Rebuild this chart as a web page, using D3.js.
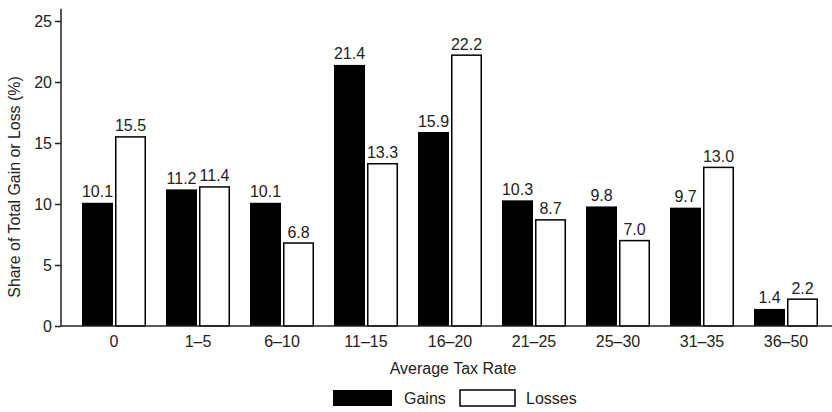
<!DOCTYPE html>
<html><head><meta charset="utf-8">
<script src="https://cdn.jsdelivr.net/npm/d3@7"></script>
<style>body{margin:0;background:#fff}svg{display:block}text{font-family:"Liberation Sans",Arial,sans-serif;fill:#222}</style>
</head><body>
<svg id="c" width="832" height="412"></svg>
<script>
const categories = ["0","1–5","6–10","11–15","16–20","21–25","25–30","31–35","36–50"];
const gains  = [10.1, 11.2, 10.1, 21.4, 15.9, 10.3, 9.8, 9.7, 1.4];
const losses = [15.5, 11.4, 6.8, 13.3, 22.2, 8.7, 7.0, 13.0, 2.2];
const yTicks = [0, 5, 10, 15, 20, 25];
const seriesNames = ["Gains", "Losses"];

const svg = d3.select("#c");
const fs = "16px";
const x = d3.scaleBand().domain(categories).range([72, 828]).padding(0);
const y = d3.scaleLinear().domain([0, 26]).range([326, 8.8]);
const bw = 31;

// bars
const g = svg.append("g");
categories.forEach((c, i) => {
  const cx = x(c) + x.bandwidth() / 2;
  g.append("rect").attr("x", cx - 32).attr("y", y(gains[i])).attr("width", bw)
    .attr("height", y(0) - y(gains[i])).attr("fill", "#000");
  g.append("rect").attr("x", cx + 1.75).attr("y", y(losses[i])).attr("width", bw - 1.5)
    .attr("height", y(0) - y(losses[i])).attr("fill", "#fff").attr("stroke", "#000").attr("stroke-width", 1.5);
  g.append("text").attr("x", cx - 16.5).attr("y", y(gains[i]) - 5.5).attr("text-anchor", "middle")
    .style("font-size", fs).text(gains[i].toFixed(1));
  g.append("text").attr("x", cx + 16.5).attr("y", y(losses[i]) - 5.5).attr("text-anchor", "middle")
    .style("font-size", fs).text(losses[i].toFixed(1));
});

// y axis
const ya = svg.append("g").attr("transform", "translate(61,0)")
  .call(d3.axisLeft(y).tickValues(yTicks).tickSize(6).tickPadding(3).tickFormat(d3.format("d")));
ya.select(".domain").attr("d", `M0,${y(26)}V${y(0)}`).attr("stroke", "#222").attr("stroke-width", 1.5);
ya.selectAll(".tick line").attr("stroke", "#222").attr("stroke-width", 1.5);
ya.selectAll(".tick text").style("font-size", fs).attr("fill", "#222").style("font-family", "Liberation Sans, Arial, sans-serif");

// x axis
const xa = svg.append("g").attr("transform", `translate(0,${y(0)})`)
  .call(d3.axisBottom(x).tickSize(0).tickPadding(10));
xa.select(".domain").attr("d", "M61,0H832").attr("stroke", "#222").attr("stroke-width", 1.5);
xa.selectAll(".tick text").style("font-size", fs).attr("fill", "#222").style("font-family", "Liberation Sans, Arial, sans-serif");

// titles
svg.append("text").attr("transform", "translate(20,187) rotate(-90)").attr("text-anchor", "middle")
  .style("font-size", "15.9px").text("Share of Total Gain or Loss (%)");
svg.append("text").attr("x", 453).attr("y", 374).attr("text-anchor", "middle")
  .style("font-size", fs).text("Average Tax Rate");

// legend
const leg = svg.append("g");
const legX = [333, 460];
seriesNames.forEach((s, i) => {
  leg.append("rect").attr("x", legX[i]).attr("y", 390).attr("width", i ? 55 : 59).attr("height", 16)
    .attr("fill", i ? "#fff" : "#000").attr("stroke", "#000").attr("stroke-width", i ? 1.5 : 0);
  leg.append("text").attr("x", legX[i] + (i ? 66 : 71)).attr("y", 404).style("font-size", fs).text(s);
});
</script>
</body></html>
